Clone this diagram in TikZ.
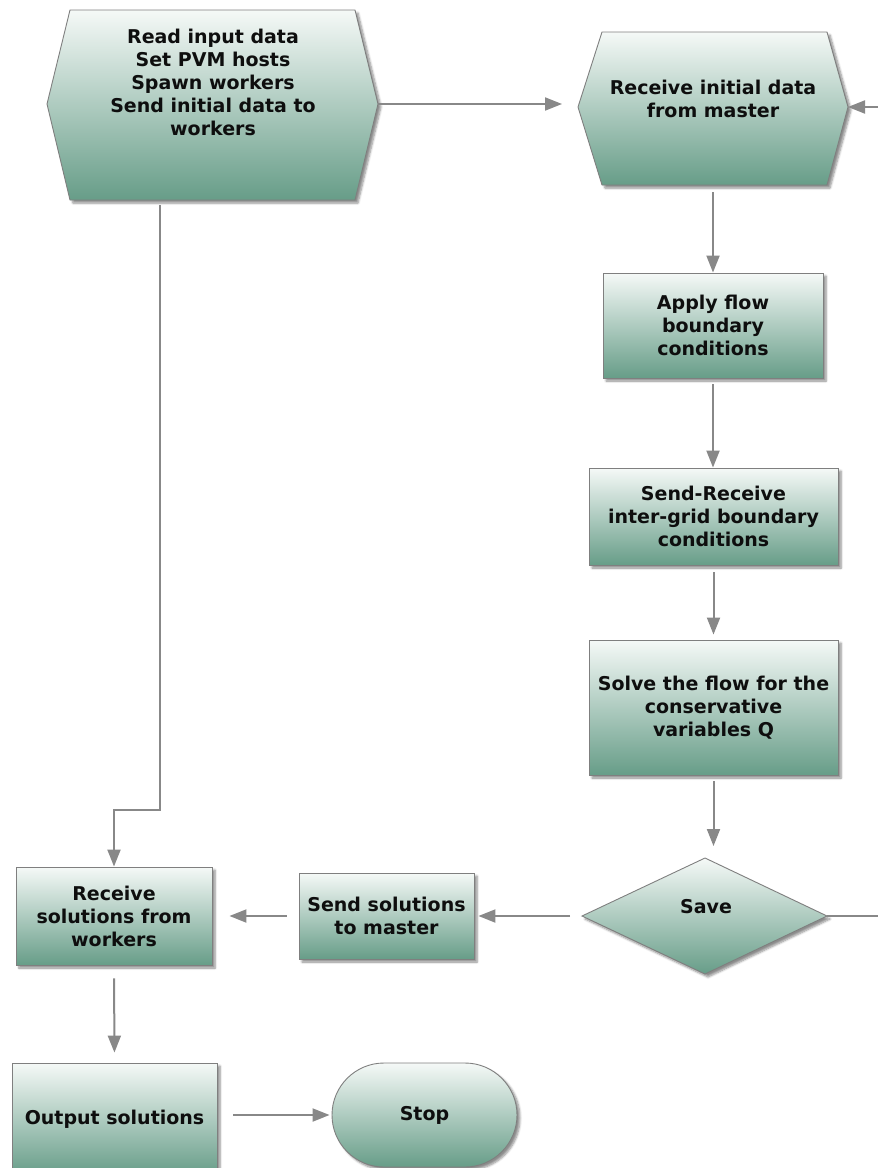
\documentclass[tikz,border=0pt]{standalone}
\usepackage{fontspec}
\setmainfont{DejaVu Sans}
\usetikzlibrary{arrows.meta,shadows.blur,shapes.geometric,shapes.misc}
\definecolor{gtop}{HTML}{F5F9F7}
\definecolor{gbot}{HTML}{679D88}
\definecolor{edge}{HTML}{7F7F7F}
\definecolor{conncol}{HTML}{888888}
\definecolor{txt}{HTML}{0E0E0E}
\tikzset{
  fillshape/.style={draw=edge, line width=0.9pt, top color=gtop, bottom color=gbot,
    blur shadow={shadow xshift=3pt, shadow yshift=-3pt, shadow opacity=45, shadow blur steps=6}},
  box/.style={fillshape, rectangle, inner sep=0pt, align=center, text=txt,
    font=\fontsize{19}{23}\selectfont\bfseries},
  label/.style={inner sep=0pt, align=center, text=txt, font=\fontsize{19}{23}\selectfont\bfseries},
  conn/.style={draw=conncol, line width=2pt, -{Triangle[length=17pt,width=13pt]}},
  plain/.style={draw=conncol, line width=2pt},
}
\begin{document}
\begin{tikzpicture}[x=1pt,y=-1pt]
\useasboundingbox (0,0) rectangle (878,1168);
% master hexagon
\path[fillshape] (70,10) -- (355,10) -- (378,104) -- (355,200) -- (70,200) -- (47,104) -- cycle;
\node[label] (A) at (213,82) {Read input data\\Set PVM hosts\\Spawn workers\\Send initial data to\\workers};
\coordinate (A-e) at (378,104);
\coordinate (A-s) at (160,200);
% worker hexagon
\path[fillshape] (602,32) -- (827,32) -- (848,107) -- (827,185) -- (602,185) -- (578,107) -- cycle;
\node[label] (B) at (713,98.5) {Receive initial data\\from master};
\coordinate (B-w) at (578,107);
\coordinate (B-e) at (848,107);
\coordinate (B-s) at (713,185);
% boxes
\node[box, minimum width=220pt, minimum height=105pt] (C) at (713,325.5) {Apply flow\\boundary\\conditions};
\node[box, minimum width=249pt, minimum height=97pt] (D) at (713.5,516.5) {Send-Receive\\inter-grid boundary\\conditions};
\node[box, minimum width=249pt, minimum height=135pt] (E) at (713.5,707.5) {Solve the flow for the\\conservative\\variables Q};
% diamond
\path[fillshape] (705,858) -- (827,916) -- (705,974) -- (582,916) -- cycle;
\node[label] (F) at (706,907) {Save};
\coordinate (F-n) at (705,858);
\coordinate (F-w) at (582,916);
\coordinate (F-e) at (827,916);
\node[box, minimum width=175pt, minimum height=86pt] (G) at (386.5,916) {Send solutions\\to master};
\node[box, minimum width=196pt, minimum height=98pt] (H) at (114,916) {Receive\\solutions from\\workers};
\node[box, minimum width=205pt, minimum height=112pt] (I) at (114.5,1119) {Output solutions};
\node[box, rounded rectangle, minimum width=185pt, minimum height=104pt] (J) at (424.5,1115) {Stop};
% loop coordinates at the right edge
\coordinate (loopB) at (878,107);
\coordinate (loopF) at (878,916);
\coordinate (bend) at (114,810);
% connectors
\draw[conn, shorten >=16pt] (A-e) -- (A-e -| B-w);
\draw[conn] (loopB) -- (B-e);
\draw[conn, shorten <=7pt] (B-s) -- (C.north);
\draw[conn, shorten <=6pt] (C.south) -- (C.south |- D.north);
\draw[conn, shorten <=7pt, shorten >=5pt] (D.south) -- (E.north);
\draw[conn, shorten <=6pt, shorten >=12pt] (E.south) -- (E.south |- F-n);
\draw[plain] (F-e) -- (loopF);
\draw[conn, shorten <=12pt, shorten >=4pt] (F-w) -- (G.east);
\draw[conn, shorten <=12pt, shorten >=17pt] (G.west) -- (H.east);
\draw[conn, shorten <=5pt] (A-s) |- (bend) -- (H.north);
\draw[conn, shorten <=13pt, shorten >=10pt] (H.south) -- (I.north);
\draw[conn, shorten <=16pt, shorten >=2pt] (I.east |- J.west) -- (J.west);
\end{tikzpicture}
\end{document}
